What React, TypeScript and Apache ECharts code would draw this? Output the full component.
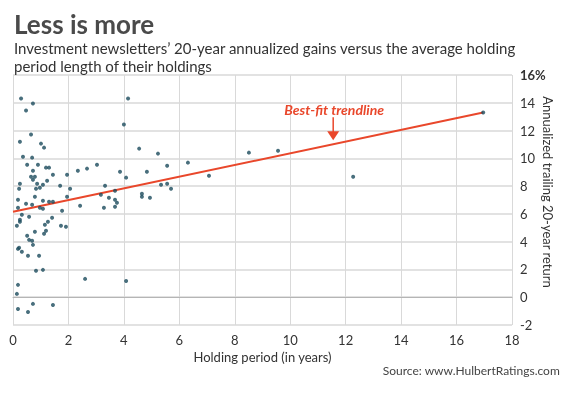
import React, { useEffect, useRef } from "react";
import * as echarts from "echarts";

const holdingYears = [
  0.29, 0.72, 0.47, 0.65, 0.25, 1.01, 1.12, 0.36, 0.69, 0.51, 0.9, 1.19, 1.3, 0.72, 1.44, 1.95,
  0.65, 0.79, 0.72, 0.25, 1.23, 1.08, 0.87, 0.97, 0.83, 0.22, 1.7, 2.06, 0.79, 1.95, 0.18, 1.08,
  1.3, 1.44, 0.47, 0.69, 0.97, 1.08, 0.18, 1.77, 0.32, 0.58, 1.41, 0.25, 0.25, 1.26, 1.15, 0.14,
  1.73, 1.91, 1.19, 0.79, 1.12, 0.51, 0.58, 0.69, 0.72, 0.18, 0.22, 0.32, 0.54, 0.94, 0.83, 1.08,
  2.6, 4.08, 0.18, 0.14, 0.18, 0.72, 1.44, 0.54, 2.34, 2.67, 3.03, 3.86, 4.08, 3.32, 3.68, 3.17,
  3.46, 3.68, 3.75, 3.68, 2.42, 3.28, 4.15, 4.0, 4.55, 5.23, 4.83, 5.56, 6.31, 5.34, 5.56, 5.7,
  4.65, 4.65, 4.94, 7.07, 8.51, 9.56, 12.27, 16.96,
];
const annualReturns = [
  14.31, 13.95, 13.44, 11.71, 11.2, 11.06, 10.77, 10.12, 10.05, 9.54, 9.54, 9.33, 9.33, 9.11, 8.82, 8.82,
  8.68, 8.68, 8.46, 8.17, 8.39, 8.1, 8.17, 7.88, 7.81, 7.81, 8.03, 7.81, 7.24, 7.24, 7.02, 6.95,
  6.87, 6.87, 6.73, 6.66, 6.44, 6.37, 6.44, 6.23, 5.94, 5.79, 5.72, 5.58, 5.43, 5.43, 5.22, 5.14,
  5.14, 5.07, 4.78, 4.71, 4.57, 4.42, 4.13, 4.06, 3.77, 3.48, 3.56, 3.27, 2.98, 2.98, 1.9, 1.97,
  1.32, 1.17, 0.89, 0.24, -0.85, -0.48, -0.56, -1.06, 9.11, 9.26, 9.54, 9.04, 8.61, 8.03, 7.67, 7.38,
  7.16, 7.02, 6.8, 6.51, 6.59, 6.44, 14.31, 12.43, 10.7, 10.34, 9.04, 9.47, 9.69, 8.1, 8.17, 7.81,
  7.45, 7.24, 7.16, 8.75, 10.41, 10.55, 8.68, 13.3,
];
const trendYears = [0, 16.96];
const trendReturns = [6.15, 13.3];

const titleText = "Less is more";
const subtitleLines = [
  "Investment newsletters\u2019 20-year annualized gains versus the average holding",
  "period length of their holdings",
];
const xAxisName = "Holding period (in years)";
const yAxisName = "Annualized trailing 20-year return";
const sourceText = "Source: www.HulbertRatings.com";
const annotationText = "Best-fit trendline";
const annotationAtYear = 11.55;

const FONT = "Lato, 'Open Sans', sans-serif";
const RED = "#e9472b";
const DOT = "#1c4b5c";

export default function App() {
  const ref = useRef<HTMLDivElement>(null);
  useEffect(() => {
    const chart = echarts.init(ref.current!, null, { renderer: "svg" });
    chart.setOption({
      animation: false,
      textStyle: { fontFamily: FONT },
      grid: { left: 13, right: 57, top: 75, bottom: 73, containLabel: false },
      xAxis: {
        type: "value",
        min: 0,
        max: 18,
        interval: 2,
        name: xAxisName,
        nameLocation: "middle",
        nameGap: 23,
        nameTextStyle: { fontSize: 13, color: "#333", fontFamily: FONT },
        axisLine: { show: true, lineStyle: { color: "#b5b5b5", width: 1 } },
        axisTick: { show: false },
        axisLabel: { fontSize: 13, color: "#333", margin: 8, fontFamily: FONT },
        splitLine: { show: true, lineStyle: { color: "#d9d9d9", width: 1 } },
      },
      yAxis: {
        type: "value",
        position: "right",
        min: -2,
        max: 16,
        interval: 2,
        axisLine: { show: false },
        axisTick: { show: false },
        axisLabel: {
          fontSize: 13,
          color: "#333",
          margin: 8,
          fontFamily: FONT,
          formatter: (v: number) => (v === 16 ? "{b|16%}" : String(v)),
          rich: { b: { fontWeight: "bold", fontSize: 13, color: "#333", fontFamily: FONT } },
        },
        splitLine: { show: true, lineStyle: { color: "#d9d9d9", width: 1.5 } },
      },
      series: [
        {
          type: "line",
          data: trendYears.map((x, i) => [x, trendReturns[i]]),
          showSymbol: false,
          lineStyle: { color: RED, width: 2 },
          z: 3,
        },
        {
          type: "scatter",
          data: holdingYears.map((x, i) => [x, annualReturns[i]]),
          symbolSize: 4,
          itemStyle: { color: DOT },
          z: 4,
        },
      ],
    });

    const slope = (trendReturns[1] - trendReturns[0]) / (trendYears[1] - trendYears[0]);
    const ay = trendReturns[0] + slope * (annotationAtYear - trendYears[0]);
    const [px, py] = chart.convertToPixel({ gridIndex: 0 }, [annotationAtYear, ay]) as number[];
    const [, yTop] = chart.convertToPixel({ gridIndex: 0 }, [0, 16]) as number[];
    const [, yBot] = chart.convertToPixel({ gridIndex: 0 }, [0, -2]) as number[];

    chart.setOption({
      graphic: [
        {
          type: "text",
          left: 14,
          top: 11,
          style: { text: titleText, fontSize: 26, fontWeight: "bold", fill: "#4a4a4a", fontFamily: FONT },
        },
        {
          type: "text",
          left: 14,
          top: 39,
          style: {
            text: subtitleLines.join("\n"),
            fontSize: 15,
            lineHeight: 18,
            fill: "#333",
            fontFamily: FONT,
          },
        },
        {
          type: "text",
          x: 548,
          y: (yTop + yBot) / 2 - 8,
          rotation: -Math.PI / 2,
          style: {
            text: yAxisName,
            fontSize: 13,
            fill: "#333",
            fontFamily: FONT,
            align: "center",
            verticalAlign: "middle",
          },
        },
        {
          type: "text",
          right: 9,
          top: 364,
          style: { text: sourceText, fontSize: 12, fill: "#444", fontFamily: FONT },
        },
        {
          type: "text",
          x: px + 1,
          y: py - 35,
          style: {
            text: annotationText,
            fontSize: 14,
            fontWeight: "bold",
            fontStyle: "italic",
            fill: RED,
            fontFamily: FONT,
            align: "center",
            verticalAlign: "middle",
          },
        },
        {
          type: "line",
          shape: { x1: px, y1: py - 27, x2: px, y2: py - 12 },
          style: { stroke: RED, lineWidth: 1.5 },
        },
        {
          type: "polygon",
          shape: { points: [[px - 6, py - 13], [px + 6, py - 13], [px, py - 4]] },
          style: { fill: RED },
        },
      ],
    });
    return () => chart.dispose();
  }, []);
  return <div ref={ref} style={{ position: "fixed", left: 0, top: 0, width: 569, height: 398 }} />;
}
